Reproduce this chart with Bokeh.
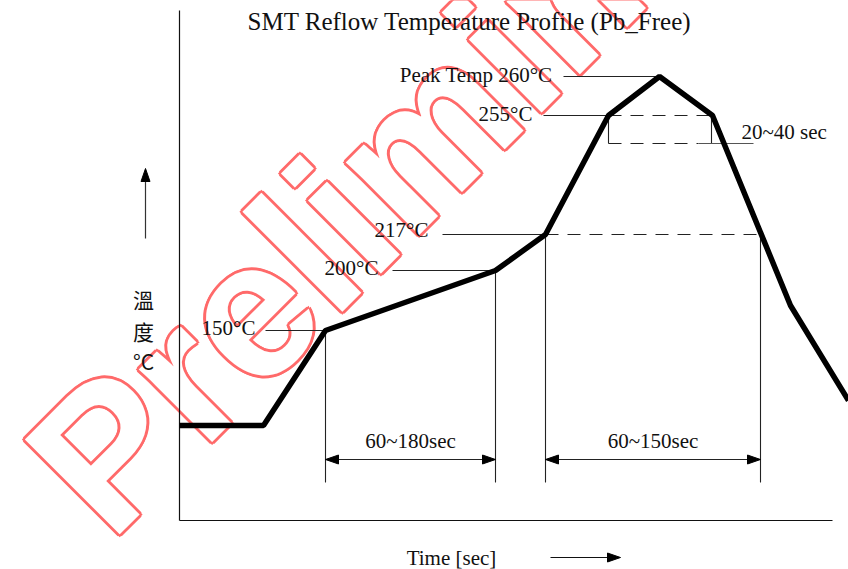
import math
from bokeh.plotting import figure
from bokeh.models import Range1d, Label
from bokeh.core.properties import value
from bokeh.embed import file_html
from bokeh.resources import INLINE

# ---- schematic data (diagram units: time to the right, temperature level up) ----
profile_t = [0, 84, 146, 316, 366, 429, 480, 533, 611, 669]
profile_T = [95, 95, 190, 250, 286, 405, 444, 405, 215, 120]

level_labels = ["150°C", "200°C", "217°C", "255°C", "Peak Temp 260°C"]
level_T = [190, 250, 286, 405, 444]
level_label_t = [76, 199, 249, 353, 373]
level_label_T = [193, 253, 291, 407, 446]
lead_t0 = [86, 213, 263, 364, 384]
lead_t1 = [146, 316, 366, 429, 480]

# dashed holding lines (217 and 255 levels, lower edge of 20~40 sec box)
dash_t0 = [366, 429, 429]
dash_t1 = [581, 533, 519]
dash_T = [286, 405, 377]

# vertical markers
vmark_t = [146, 316, 366, 581, 429, 532]
vmark_T0 = [190, 250, 286, 286, 405, 405]
vmark_T1 = [38, 38, 38, 38, 377, 377]

# 20~40 sec bracket solid tail
box_tail_t0 = [519]
box_tail_t1 = [574]
box_tail_T = [377]

# duration spans
span_labels = ["60~180sec", "60~150sec"]
span_t0 = [146, 366]
span_t1 = [316, 581]
span_T = [61, 61]
span_label_T = [80, 80]

title_text = "SMT Reflow Temperature Profile (Pb_Free)"
x_label = "Time [sec]"
y_label_chars = ["溫", "度", "°C"]
peak_window_label = "20~40 sec"
watermark = "Preliminary"

SERIF = value("Liberation Serif")
HL, HW = 13, 4.5  # arrowhead length / half width (screen px == data units here)

p = figure(width=848, height=569, x_range=Range1d(-179, 669), y_range=Range1d(-49, 520),
           output_backend="svg", toolbar_location=None, min_border=0)
p.xaxis.visible = False
p.yaxis.visible = False
p.xgrid.visible = False
p.ygrid.visible = False
p.outline_line_color = None
p.background_fill_color = "white"
p.border_fill_color = "white"

# watermark (behind everything): red outline made from offset copies, white face on top
wm_common = dict(x=-40, y=-52, text=watermark, angle=math.pi / 4, level="underlay",
                 text_font="Liberation Sans", text_font_style="bold",
                 text_font_size="195px", text_align="left", text_baseline="bottom")
for dx, dy in [(3, 0), (-3, 0), (0, 3), (0, -3), (2, 2), (2, -2), (-2, 2), (-2, -2)]:
    p.add_layout(Label(x_offset=dx, y_offset=dy, text_color="#ff6a6a", **wm_common))
p.add_layout(Label(text_color="white", **wm_common))

# axes lines
p.segment(x0=[0, 0], y0=[0, 0], x1=[0, 653], y1=[510, 0], line_color="#111111", line_width=1.2)

# leader lines
p.segment(x0=lead_t0, y0=level_T, x1=lead_t1, y1=level_T, line_color="#222222", line_width=1.1)
# dashed lines
p.segment(x0=dash_t0, y0=dash_T, x1=dash_t1, y1=dash_T, line_color="#222222",
          line_width=1.1, line_dash="13 9")
# vertical markers
p.segment(x0=vmark_t, y0=vmark_T0, x1=vmark_t, y1=vmark_T1, line_color="#222222", line_width=1.1)
p.segment(x0=box_tail_t0, y0=box_tail_T, x1=box_tail_t1, y1=box_tail_T,
          line_color="#555555", line_width=1.1)

# profile
p.line(profile_t, profile_T, line_color="black", line_width=5.5)

# labels
p.text(x=level_label_t, y=level_label_T, text=level_labels, text_font=SERIF,
       text_font_size="21px", text_color="#111111", text_align="right", text_baseline="middle")
p.text(x=[562], y=[389], text=[peak_window_label], text_font=SERIF,
       text_font_size="21px", text_color="#111111", text_align="left", text_baseline="middle")

# spans with double arrowheads
p.segment(x0=span_t0, y0=span_T, x1=span_t1, y1=span_T, line_color="#222222", line_width=1.2)
heads_x, heads_y = [], []
for a, b, y in zip(span_t0, span_t1, span_T):
    heads_x.append([a, a + HL, a + HL]); heads_y.append([y, y + HW, y - HW])
    heads_x.append([b, b - HL, b - HL]); heads_y.append([y, y + HW, y - HW])
p.patches(heads_x, heads_y, fill_color="black", line_color="black")
p.text(x=[(a + b) / 2 for a, b in zip(span_t0, span_t1)], y=span_label_T, text=span_labels,
       text_font=SERIF, text_font_size="21px", text_color="#111111",
       text_align="center", text_baseline="middle")

# title
p.text(x=[290], y=[499], text=[title_text], text_font=SERIF, text_font_size="25px",
       text_color="#111111", text_align="center", text_baseline="middle")

# y label with up arrow
yarr = (-34, 282, 352)
p.segment(x0=[yarr[0]], y0=[yarr[1]], x1=[yarr[0]], y1=[yarr[2] - HL + 1],
          line_color="#333333", line_width=1.2)
p.patch([yarr[0], yarr[0] - HW, yarr[0] + HW], [yarr[2], yarr[2] - HL, yarr[2] - HL],
        fill_color="black", line_color="black")
p.text(x=[-36, -36, -36], y=[222, 190, 160], text=y_label_chars,
       text_font=value("Noto Sans CJK TC"), text_font_size="21px", text_color="#111111",
       text_align="center", text_baseline="middle")

# x label with right arrow
p.text(x=[272], y=[-37], text=[x_label], text_font=SERIF, text_font_size="21px",
       text_color="#111111", text_align="center", text_baseline="middle")
xarr = (371, 441, -37)
p.segment(x0=[xarr[0]], y0=[xarr[2]], x1=[xarr[1] - HL + 1], y1=[xarr[2]],
          line_color="#111111", line_width=1.2)
p.patch([xarr[1], xarr[1] - HL, xarr[1] - HL], [xarr[2], xarr[2] + HW, xarr[2] - HW],
        fill_color="black", line_color="black")

open("out.html", "w").write(file_html(p, INLINE))
